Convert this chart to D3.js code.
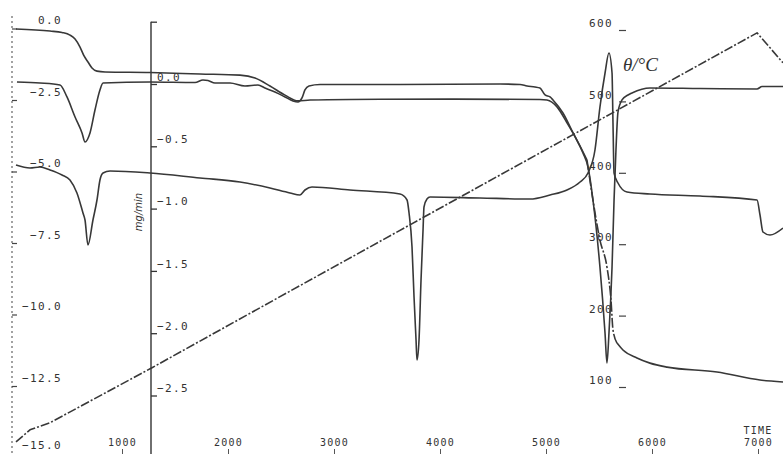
<!DOCTYPE html>
<html>
<head>
<meta charset="utf-8">
<script src="https://cdn.jsdelivr.net/npm/d3@7"></script>
<style>
  html, body { margin: 0; padding: 0; background: #fff; }
  svg { display: block; }
  .lbl { font-family: "DejaVu Sans Mono", monospace; font-size: 11px; letter-spacing: 1.4px; fill: #333; }
  .lbl-small { font-family: "DejaVu Sans Mono", monospace; font-size: 10px; letter-spacing: 1.2px; fill: #333; }
  .curve { fill: none; stroke: #383838; stroke-width: 1.6; stroke-linejoin: round; }
</style>
</head>
<body>
<svg id="chart" width="783" height="454"></svg>
<script>
// Thermal analysis run: TG (mg), DTG (mg/min), DTA signal and furnace temperature vs time (s)

// TG mass change, [time s, mass mg]
const tgData = [
  [0, -0.02], [321, -0.09], [434, -0.14], [509, -0.23], [557, -0.37], [604, -0.65],
  [642, -0.96], [679, -1.17], [717, -1.38], [764, -1.49], [840, -1.52], [1264, -1.54],
  [1736, -1.59], [2113, -1.63], [2255, -1.73], [2396, -2.01], [2538, -2.33], [2660, -2.53],
  [2774, -2.50], [3151, -2.48], [4094, -2.47], [4943, -2.48], [5009, -2.50], [5104, -2.74],
  [5198, -3.30], [5292, -3.90], [5387, -4.60], [5443, -6.00], [5509, -7.40], [5575, -8.34],
  [5613, -9.49], [5632, -10.54], [5670, -11.00], [5726, -11.24], [5858, -11.52], [5981, -11.70],
  [6142, -11.84], [6613, -12.01], [7019, -12.29], [7236, -12.36]
];
// Time window of the fast mass loss, where the recorder trace is broken
const tgFastStep = [5387, 5670];

// DTG mass-loss rate, [time s, rate mg/min]
const dtgData = [
  [9, 0.016], [226, 0.008], [415, -0.008], [481, -0.104], [557, -0.265], [623, -0.393],
  [651, -0.465], [698, -0.393], [745, -0.209], [792, -0.048], [821, 0.008], [1264, 0.016],
  [1689, 0.012], [1764, 0.032], [1811, 0.028], [1877, 0.008], [2019, 0.008], [2160, -0.016],
  [2283, -0.008], [2349, -0.032], [2443, -0.064], [2538, -0.104], [2613, -0.136], [2660, -0.144],
  [2698, -0.112], [2726, -0.048], [2764, -0.016], [2868, -0.004], [3623, -0.004], [4566, 0],
  [4755, -0.004], [4821, -0.016], [4896, -0.024], [4943, -0.032], [4991, -0.088], [5038, -0.104],
  [5066, -0.128], [5160, -0.233], [5255, -0.393], [5349, -0.554], [5396, -0.666], [5443, -0.931],
  [5509, -1.47], [5557, -2.0], [5575, -2.239], [5594, -2.0], [5623, -1.469], [5642, -0.931],
  [5660, -0.530], [5679, -0.225], [5717, -0.128], [5774, -0.088], [5811, -0.072], [5981, -0.032],
  [6453, -0.036], [6991, -0.040], [7038, -0.020], [7236, -0.020]
];

// DTA signal (arbitrary units, exo up), [time s, signal]
const dtaData = [
  [0, 1.0], [132, 0.4], [226, 0.6], [321, 0], [434, -1.0], [509, -2.0], [575, -4.6],
  [632, -8.6], [651, -10.0], [679, -15.0], [726, -10.0], [764, -6.0], [792, -2.0],
  [821, -0.6], [887, -0.2], [1264, -0.6], [1736, -1.6], [2113, -2.4], [2396, -3.6],
  [2585, -4.6], [2679, -5.0], [2726, -4.0], [2792, -3.4], [3151, -4.0], [3623, -4.8],
  [3689, -6.0], [3708, -8.6], [3736, -15.4], [3755, -25.4], [3774, -34.0], [3783, -38.0],
  [3802, -34.0], [3821, -22.0], [3840, -12.0], [3849, -7.4], [3877, -5.8], [3906, -5.4],
  [4377, -5.6], [4849, -5.8], [5038, -5.0], [5198, -4.0], [5321, -2.4], [5396, -0.6],
  [5462, 4.0], [5509, 12.6], [5557, 19.4], [5594, 23.4], [5623, 19.4], [5632, 9.4],
  [5642, -0.6], [5679, -2.6], [5764, -4.4], [5981, -4.8], [6453, -5.2], [6991, -6.0],
  [7019, -9.0], [7047, -12.4], [7113, -13.0], [7236, -11.6]
];

// Furnace temperature, [time s, T °C]
const tempData = [
  [0, 23], [132, 40], [321, 50], [1283, 127], [2302, 211], [6991, 596], [7236, 554]
];

// Tick values
const timeTicks = [1000, 2000, 3000, 4000, 5000, 6000, 7000];
const massTicks = [0, -2.5, -5, -7.5, -10, -12.5, -15];
const rateTicks = [0.5, 0, -0.5, -1.0, -1.5, -2.0, -2.5];
const tempTicks = [100, 200, 300, 400, 500, 600];

const svg = d3.select("#chart");

// Scales
const x = d3.scaleLinear().domain([0, 7000]).range([16, 758]);
const yTg = d3.scaleLinear().domain([0, -15]).range([28.5, 457.5]);
const yDtg = d3.scaleLinear().domain([0.5, -2.5]).range([21.7, 395.5]);
const yDta = d3.scaleLinear().domain([0, 30]).range([170, 20]);
const yT = d3.scaleLinear().domain([100, 600]).range([387, 30]);

const fmt1 = d3.format(".1f");

// Left mass axis: dotted spine with short ticks, labels above each tick
svg.append("line")
  .attr("x1", 12).attr("x2", 12).attr("y1", 16).attr("y2", 454)
  .attr("stroke", "#707070").attr("stroke-width", 1.3).attr("stroke-dasharray", "2,3");
const gMass = svg.append("g").attr("transform", "translate(12,0)")
  .call(d3.axisRight(yTg).tickValues(massTicks).tickSize(5).tickFormat(d => fmt1(d)));
gMass.select(".domain").remove();
gMass.selectAll(".tick line").attr("stroke", "#444").attr("stroke-width", 1.2);
gMass.selectAll(".tick text").attr("class", "lbl")
  .attr("text-anchor", "end").attr("x", 50)
  .attr("dy", d => d === -15 ? "-0.8em" : "-0.45em");

// Middle rate axis
svg.append("line")
  .attr("x1", 151).attr("x2", 151).attr("y1", yDtg(0.5)).attr("y2", 454)
  .attr("stroke", "#333").attr("stroke-width", 1.4);
const gRate = svg.append("g").attr("transform", "translate(151,0)")
  .call(d3.axisRight(yDtg).tickValues(rateTicks).tickSize(6)
    .tickFormat(d => d === 0.5 ? "" : fmt1(d)));
gRate.select(".domain").remove();
gRate.selectAll(".tick line").attr("stroke", "#333").attr("stroke-width", 1.3);
gRate.selectAll(".tick text").attr("class", "lbl")
  .attr("text-anchor", "start").attr("x", 6).attr("dy", "-0.35em");
svg.append("text")
  .attr("transform", "translate(142,212) rotate(-90)")
  .attr("text-anchor", "middle")
  .style("font-family", "DejaVu Sans, sans-serif").style("font-size", "10px")
  .style("font-style", "italic").style("fill", "#333")
  .text("mg/min");

// Right temperature axis
const gTemp = svg.append("g").attr("transform", "translate(619,0)")
  .call(d3.axisRight(yT).tickValues(tempTicks).tickSize(7));
gTemp.select(".domain").remove();
gTemp.selectAll(".tick line").attr("stroke", "#444").attr("stroke-width", 1.2);
gTemp.selectAll(".tick text").attr("class", "lbl")
  .attr("text-anchor", "end").attr("x", -6).attr("dy", "-0.3em");
svg.append("text")
  .attr("x", 623).attr("y", 71)
  .style("font-family", "Liberation Serif, serif").style("font-size", "19px")
  .style("font-style", "italic").style("fill", "#333")
  .text("θ/°C");

// Time axis along the bottom edge, labels above the ticks
const gTime = svg.append("g").attr("transform", "translate(0,449)")
  .call(d3.axisBottom(x).tickValues(timeTicks).tickSize(5).tickFormat(d3.format("d")));
gTime.select(".domain").remove();
gTime.selectAll(".tick line").attr("stroke", "#555").attr("stroke-width", 1);
gTime.selectAll(".tick text").attr("class", "lbl-small").attr("y", -3).attr("dy", 0);
svg.append("text").attr("class", "lbl-small")
  .attr("x", x(7000)).attr("y", 434).attr("text-anchor", "middle").text("TIME");

// Curves
const lineOf = (ys, curve) => d3.line().x(d => x(d[0])).y(d => ys(d[1])).curve(curve);

svg.append("path").datum(tempData)
  .attr("class", "curve").attr("stroke-width", 1.2)
  .attr("stroke-dasharray", "9,2,2,2")
  .attr("d", lineOf(yT, d3.curveLinear));

// TG: solid before and after the fast step, broken trace during it
const tgBefore = tgData.filter(d => d[0] <= tgFastStep[0]);
const tgStep = tgData.filter(d => d[0] >= tgFastStep[0] && d[0] <= tgFastStep[1]);
const tgAfter = tgData.filter(d => d[0] >= tgFastStep[1]);
svg.append("path").datum(tgBefore).attr("class", "curve")
  .attr("d", lineOf(yTg, d3.curveMonotoneX));
svg.append("path").datum(tgStep).attr("class", "curve")
  .attr("stroke-dasharray", "10,2,2,2")
  .attr("d", lineOf(yTg, d3.curveMonotoneX));
svg.append("path").datum(tgAfter).attr("class", "curve")
  .attr("d", lineOf(yTg, d3.curveMonotoneX));

svg.append("path").datum(dtgData)
  .attr("class", "curve")
  .attr("d", lineOf(yDtg, d3.curveMonotoneX));

svg.append("path").datum(dtaData)
  .attr("class", "curve")
  .attr("d", lineOf(yDta, d3.curveMonotoneX));
</script>
</body>
</html>
